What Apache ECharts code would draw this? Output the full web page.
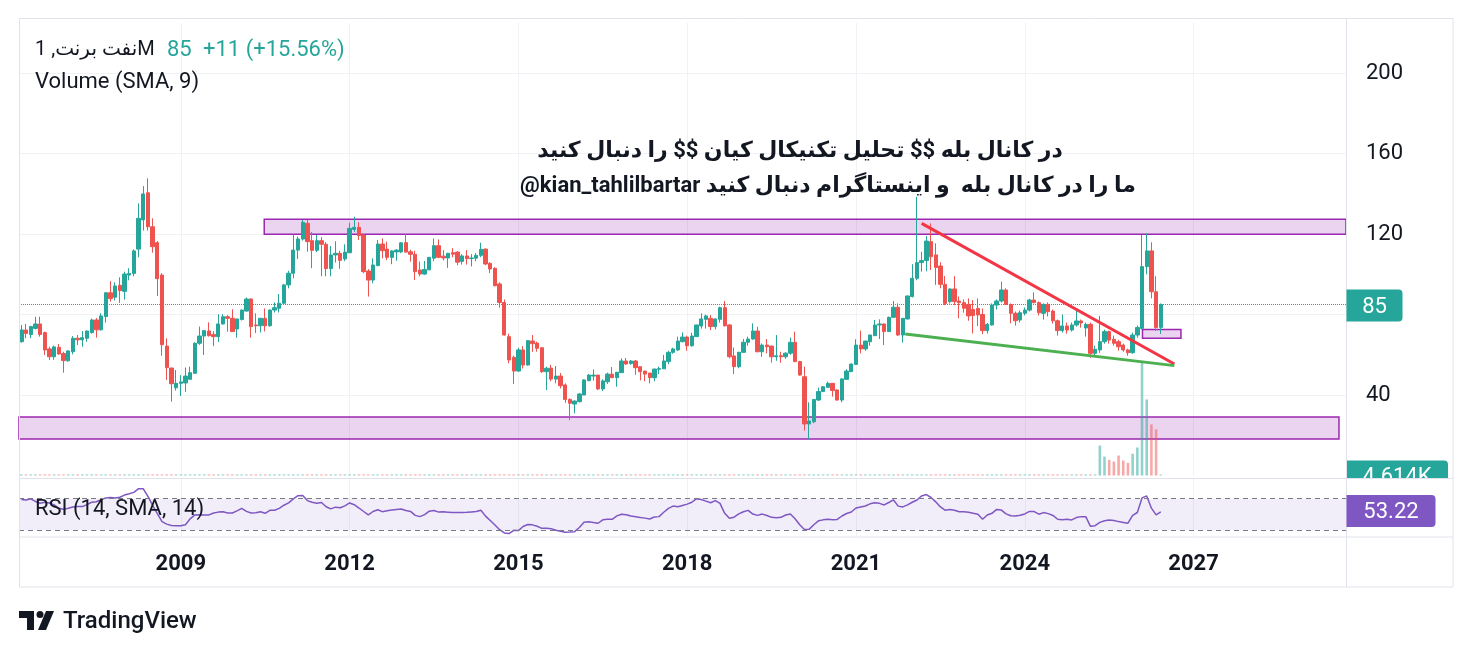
<!DOCTYPE html>
<html><head><meta charset="utf-8">
<script src="https://cdn.jsdelivr.net/npm/echarts@6/dist/echarts.min.js"></script>
<style>html,body{margin:0;padding:0;background:#fff}#c{width:1473px;height:654px}</style>
</head><body><div id="c"></div>
<script>
// ---- data (monthly candles, first = Apr 2006) ----
const startYear = 2006, startMonth = 4;
const axisMonths = 283;
const yearTicks = [2009, 2012, 2015, 2018, 2021, 2024, 2027];
const priceTicks = [40, 80, 120, 160, 200];

const opens = [
66.5,72.3,70.1,73.1,75.3,71.0,62.9,59.0,63.7,60.6,
57.0,61.5,68.2,67.4,68.2,71.0,77.3,72.4,79.0,90.8,
88.6,94.5,91.5,99.6,100.4,112.5,127.0,140.5,123.6,115.7,
99.6,64.3,53.4,43.6,45.8,46.0,47.8,50.8,65.7,69.3,
71.8,70.1,69.0,75.3,78.9,78.1,72.8,77.5,81.7,87.7,
74.8,74.4,78.1,74.4,82.2,83.1,85.6,94.7,100.5,112.0,
117.5,125.3,116.7,111.9,116.7,114.9,102.8,109.6,110.4,107.6,
110.7,122.3,123.3,119.5,101.6,97.1,104.3,115.0,112.5,108.4,
111.1,111.1,115.7,111.2,109.9,102.1,100.1,102.2,108.0,114.2,
109.0,108.1,110.7,111.0,106.4,109.1,107.8,108.0,109.4,112.5,
105.4,102.9,95.2,86.0,69.0,58.7,51.9,62.4,54.9,66.8,
65.8,63.5,51.6,53.4,47.9,49.4,45.0,37.8,35.5,36.7,
40.0,47.1,49.4,49.9,43.0,46.6,50.3,48.6,51.1,56.9,
55.7,56.9,54.0,51.9,50.9,48.6,52.8,53.0,56.6,61.2,
62.4,66.5,68.8,64.5,69.0,74.3,77.6,78.1,74.0,77.6,
83.4,74.8,59.4,54.1,61.2,66.2,67.8,71.8,61.5,64.8,
64.3,59.0,59.5,59.0,60.8,66.2,56.6,49.1,25.6,26.7,
37.5,41.7,43.8,45.8,42.5,37.5,47.8,51.6,55.2,64.8,
62.9,66.5,69.5,74.8,75.3,71.5,78.6,83.6,69.8,77.8,
88.9,98.0,105.8,106.8,116.2,109.6,104.1,95.0,86.4,92.7,
86.7,85.9,85.0,82.5,83.0,80.0,72.0,74.8,84.7,86.7,
92.2,85.0,80.6,77.3,80.6,82.2,87.2,85.9,80.6,85.0,
81.7,76.9,72.0,74.3,72.3,74.8,76.8,73.3,75.1,60.7,
62.4,66.5,71.5,67.7,66.5,64.8,62.4,61.0,69.8,73.1,
103.8,111.6,91.3,73.6];

const highs = [
74.8,75.3,74.4,78.9,78.9,71.5,64.0,64.5,65.3,61.5,
62.3,69.3,69.8,71.8,72.0,78.0,78.2,80.6,91.0,96.6,
96.0,98.5,101.3,103.0,112.4,135.2,143.8,147.7,127.8,116.5,
100.5,68.2,53.6,52.4,49.9,53.7,54.1,66.2,74.0,72.3,
76.1,71.7,80.1,80.2,79.7,82.6,77.8,82.5,88.4,88.0,
80.6,78.3,83.0,82.5,86.0,90.2,95.2,101.7,119.8,118.7,
127.0,127.0,121.0,119.6,118.5,116.0,114.0,116.4,111.7,114.9,
125.6,128.6,125.8,120.0,102.5,107.9,117.0,117.8,116.2,112.0,
112.5,116.0,119.9,112.2,111.7,106.3,106.6,108.6,117.8,117.3,
112.0,110.6,113.0,111.5,110.0,112.0,110.0,110.5,115.7,112.8,
106.0,103.5,96.0,87.5,70.5,59.5,63.5,64.3,67.3,69.8,
66.5,63.8,54.1,55.0,54.4,50.9,45.8,38.3,37.3,41.0,
47.8,50.4,52.7,50.0,47.8,51.1,53.9,51.5,58.2,58.4,
57.3,57.4,54.2,52.0,51.0,53.0,54.1,59.9,62.0,63.5,
69.0,71.1,69.5,70.9,74.9,80.6,80.0,79.7,78.0,83.9,
86.7,75.3,63.6,61.5,67.9,69.0,75.6,73.9,65.6,67.8,
64.5,69.8,61.5,61.2,68.5,71.5,57.0,54.1,36.4,38.0,
43.6,44.4,46.6,46.0,42.8,48.2,52.8,55.6,67.7,72.0,
67.0,70.0,77.3,77.6,75.5,79.0,86.7,85.5,78.3,89.5,
105.0,138.5,111.2,119.0,125.3,115.4,106.0,99.1,93.0,99.0,
88.9,87.5,88.0,87.2,88.0,83.0,75.8,85.5,87.5,96.3,
93.0,85.5,81.5,82.0,83.5,87.8,91.0,86.5,85.5,86.0,
82.5,77.5,80.0,76.0,76.0,82.5,77.5,76.0,76.0,64.5,
79.3,72.5,72.0,69.5,67.5,65.5,63.0,71.0,74.5,119.5,
120.3,115.9,99.0,85.5];

const lows = [
66.0,68.2,68.2,72.6,69.0,59.9,57.4,57.5,60.0,51.1,
56.5,60.2,64.8,64.0,66.5,70.5,68.5,72.0,76.0,86.4,
87.0,85.8,87.4,97.0,99.0,108.4,121.7,121.7,110.7,89.2,
59.5,47.5,36.7,42.2,39.5,41.6,47.8,50.5,64.9,59.9,
69.0,64.3,66.3,75.0,71.5,71.3,68.5,77.0,81.5,68.5,
70.8,71.1,71.6,74.0,81.0,81.0,85.2,93.0,98.0,107.6,
116.7,111.2,103.0,111.0,99.0,99.0,99.0,105.8,102.7,106.5,
110.5,121.0,117.0,100.5,88.9,95.5,104.0,107.9,107.0,105.0,
106.7,110.5,110.8,106.3,97.1,99.0,99.6,102.0,106.5,108.0,
106.9,103.2,108.4,104.5,104.8,104.8,103.9,106.5,108.5,104.5,
100.6,94.0,83.4,69.5,55.8,45.5,51.6,53.2,54.6,61.4,
61.5,51.0,42.5,46.8,45.8,43.3,36.1,27.5,30.9,36.3,
40.0,47.1,47.1,42.5,42.0,45.5,48.5,44.1,51.0,55.0,
55.0,50.0,47.3,46.8,45.8,46.8,50.4,53.0,55.3,60.5,
61.8,66.2,62.0,64.0,68.8,73.0,73.0,72.3,72.6,76.0,
74.0,58.2,50.4,53.3,61.0,64.5,67.5,61.2,59.0,60.7,
56.1,57.0,56.0,58.0,60.0,56.3,49.6,22.3,18.0,26.0,
37.0,41.5,43.8,39.2,37.2,36.4,47.5,51.5,55.0,60.7,
62.0,64.5,69.3,67.8,64.8,71.3,78.5,69.3,66.0,77.5,
88.5,97.0,101.3,101.5,102.1,94.7,93.0,84.7,85.5,84.7,
78.1,80.9,76.9,70.6,74.3,70.3,70.5,74.5,82.5,86.0,
84.7,75.6,74.5,76.0,79.5,81.5,85.5,79.5,77.5,79.0,
75.5,69.5,71.0,70.5,71.5,74.0,73.5,69.0,58.5,59.0,
61.0,65.5,65.5,64.5,62.0,61.5,59.5,60.5,68.5,72.5,
100.0,88.0,71.8,70.3];

const closes = [
72.3,70.6,74.0,75.3,70.1,62.4,59.0,63.9,60.4,57.1,
61.9,68.2,67.4,68.5,71.8,77.3,72.4,79.3,90.8,87.9,
94.2,91.9,100.1,100.4,111.6,127.8,139.9,123.6,113.7,97.8,
65.0,53.6,45.6,45.8,46.5,49.4,51.1,65.7,69.3,72.0,
69.5,69.0,75.3,78.9,78.1,71.5,77.8,82.2,87.7,74.0,
74.4,78.1,74.4,82.2,83.4,85.6,94.7,100.5,112.0,117.5,
125.8,116.2,111.9,116.7,114.9,102.8,109.6,110.4,106.9,111.0,
122.8,123.3,119.2,101.3,97.1,104.6,115.0,111.7,108.4,111.6,
112.0,115.6,111.0,109.9,101.3,100.1,102.4,108.4,114.2,108.4,
108.1,110.4,110.0,106.0,109.1,107.8,108.1,109.4,112.4,105.1,
102.6,94.3,86.0,69.8,57.4,51.9,62.4,54.9,67.0,65.5,
63.2,51.6,53.3,47.9,49.4,44.6,37.8,35.9,37.0,40.5,
47.5,49.9,49.9,43.0,47.0,50.4,48.6,51.3,56.9,55.4,
56.9,53.6,51.6,50.4,48.6,52.9,53.1,56.9,61.2,62.9,
66.8,68.8,64.5,69.3,74.8,77.8,79.3,74.0,77.8,83.4,
74.4,59.0,54.1,61.2,66.2,67.8,71.8,61.5,64.8,64.0,
59.0,59.5,59.0,60.8,66.2,56.6,49.9,25.6,27.1,37.8,
41.7,44.1,45.8,42.2,37.5,48.0,51.9,55.4,64.8,62.9,
66.8,69.8,74.8,75.3,71.5,78.6,83.6,69.8,78.1,89.2,
98.0,105.8,106.8,116.5,108.7,103.4,95.0,85.5,92.7,86.4,
85.9,83.1,79.3,79.5,79.8,72.0,75.1,84.7,86.7,92.2,
85.0,80.6,76.9,80.9,82.2,87.2,85.9,80.9,85.0,81.4,
76.9,72.0,74.3,72.3,74.8,76.8,75.8,75.1,60.7,62.7,
66.5,71.5,67.3,65.7,64.0,62.4,61.0,69.8,73.5,103.8,
111.6,91.3,73.555,85.0];

// volume in K (one value per candle)
const volumes = [
5,5,5,5,5,5,5,5,5,5,
5,5,5,5,5,5,5,5,5,5,
5,5,5,5,5,5,5,5,5,5,
5,5,5,5,5,5,5,5,5,5,
5,5,5,5,5,5,5,5,5,5,
5,5,5,5,5,5,5,5,5,5,
5,5,5,5,5,5,5,5,5,5,
5,5,5,5,5,5,5,5,5,5,
5,5,5,5,5,5,5,5,5,5,
5,5,5,5,5,5,5,5,5,5,
5,5,5,5,5,5,5,5,5,5,
5,5,5,5,5,5,5,5,5,5,
5,5,5,5,5,5,5,5,5,5,
5,5,5,5,5,5,5,5,5,5,
5,5,5,5,5,5,5,5,5,5,
5,5,5,5,5,5,5,5,5,5,
5,5,5,5,5,5,5,5,5,5,
5,5,5,5,5,5,5,5,5,5,
5,5,5,5,5,5,5,5,5,5,
5,5,5,5,5,5,5,5,5,5,
5,5,5,5,5,5,5,5,5,5,
5,5,5,5,5,5,5,5,5,5,
5,5,5,5,5,5,5,5,5,5,
138,87,72,64,92,69,58,100,129,521,
350,235,212,4.614];

const rsi = [
69,68.4,69.8,66.5,64.2,65.6,64.5,62.1,57.8,56.5,
57.9,59.6,60,60,62.5,65.5,66.1,68.8,70.8,71.4,
70.8,71.8,74.6,76.2,78,82.7,82.5,73,61.5,51,
41,37.8,36,35.7,35.8,37.1,44.5,49.5,49.6,49.4,
49.5,51.8,53,53.4,52,51.9,54.6,57.8,54,51.8,
52.3,53.4,51.5,55.3,55.3,57.8,61.7,64.7,69.7,73.8,
74.1,67.6,65.5,64.3,65.2,59.8,57.1,59.3,58.5,60.9,
64.6,62.4,58.2,53.8,49.5,53.8,56,53.6,54.8,55.6,
56.3,57,55,53.9,48.9,47.3,49.8,54.2,55,53,
53.4,52.9,52.4,52.4,52.4,52.7,53.3,53.9,55.4,47.9,
42.3,36.6,30.8,26.6,25.8,30,29.6,34.8,37.3,36.9,
35.1,32.5,32.5,32.1,30.1,28.7,27.6,27.9,28.3,33.5,
40.1,40.8,39.8,38.9,43.3,43.9,43.9,48.2,50.3,49.6,
48.1,47.1,46.1,45.4,44.3,46.8,47.3,52.8,57.7,60.6,
59.8,61.5,63.1,65.5,70,68.9,66.9,64.9,67.5,64,
51.5,45.2,46.6,50.8,53.5,55.2,50.5,48.9,50.5,48.7,
46.4,46,46.4,49.4,50.6,44.6,37,31.1,31.2,37,
42,43.2,43.9,43.5,43.8,48.1,51.3,53.2,58.2,59.6,
60.8,63.5,64.8,64.1,62.1,65.2,68.4,60.6,59.6,62.1,
65.5,68.4,73.5,75.2,71.5,66,59.6,55.5,56.2,55.3,
53.5,53.4,52.9,51.5,50.2,43.9,49.4,51.5,56.4,55.6,
50.8,48.5,48.1,49.1,50.7,53.9,53.7,50.4,52.4,51.1,
48.8,44,43.3,43.9,43.1,46.1,47.3,47.3,35,35.8,
40,42,43,42.4,41,40,39,49,52.5,71,
73.5,58,49.5,53.22];

// drawings (month index, price)
const resistanceZone = [51.8, axisMonths - 0.5, 119.9, 127.3];
const supportZone = [-0.5, 281.0, 18.1, 29.1];
const retestZone = [239.1, 247.3, 68.2, 72.6];
const upperTrend = [[192.0, 125.3], [245.9, 55.4]];
const lowerTrend = [[188.5, 70.3], [245.9, 54.6]];
const rsiBands = [30, 70];

// ---- build ----
const cats = [];
for (let k = 0; k < axisMonths; k++) {
  const m = startMonth - 1 + k;
  cats.push((startYear + Math.floor(m / 12)) + '-' + String(m % 12 + 1).padStart(2, '0'));
}
const isYearTick = (idx, val) => {
  const p = String(val).split('-');
  return p[1] === '02' && yearTicks.indexOf(+p[0]) >= 0;
};
const UP = '#26a69a', DOWN = '#ef5350';
const candles = opens.map((o, i) => [o, closes[i], lows[i], highs[i]]);
const volData = volumes.map((v, i) => ({
  value: v,
  itemStyle: { color: closes[i] >= opens[i] ? 'rgba(38,166,154,0.5)' : 'rgba(239,83,80,0.5)' }
}));
const lastClose = closes[closes.length - 1];
const prevClose = closes[closes.length - 2];
const chg = lastClose - prevClose;
const lastVol = volumes[volumes.length - 1];
const lastRsi = rsi[rsi.length - 1];
const zoneArea = z => [{ coord: [z[0], z[3]] }, { coord: [z[1], z[2]] }];

const FONT = 'Roboto, "DejaVu Sans", sans-serif';
const TXT = '#131722';
const BORDER = '#e0e3eb';
const GRIDC = '#f0f2f5';

const chart = echarts.init(document.getElementById('c'), null, { renderer: 'canvas' });
chart.setOption({
  animation: false,
  backgroundColor: '#ffffff',
  grid: [
    { left: 19, right: 127, top: 22.7, height: 452.8 },
    { left: 19, right: 127, top: 478.3, height: 58.4 }
  ],
  xAxis: [
    { type: 'category', gridIndex: 0, data: cats, boundaryGap: true,
      axisLine: { show: false }, axisTick: { show: false }, axisLabel: { show: false },
      splitLine: { show: true, interval: isYearTick, alignWithLabel: true, lineStyle: { color: GRIDC, width: 1 } } },
    { type: 'value', gridIndex: 0, min: -0.5, max: axisMonths - 0.5, show: false },
    { type: 'category', gridIndex: 1, data: cats, boundaryGap: true,
      axisLine: { show: false }, axisTick: { show: false },
      axisLabel: { interval: isYearTick, formatter: v => v.slice(0, 4), margin: 17,
        fontSize: 22, fontWeight: 'bold', color: TXT, fontFamily: FONT },
      splitLine: { show: true, interval: isYearTick, alignWithLabel: true, lineStyle: { color: GRIDC, width: 1 } } }
  ],
  yAxis: [
    { type: 'value', gridIndex: 0, position: 'right', min: 0, max: 225, interval: 40,
      axisLine: { show: false }, axisTick: { show: false },
      axisLabel: { margin: 20, fontSize: 22, color: TXT, fontFamily: FONT,
        showMinLabel: false, showMaxLabel: false,
        formatter: v => priceTicks.indexOf(v) >= 0 ? String(v) : '' },
      splitLine: { show: true, showMinLine: false, showMaxLine: false, lineStyle: { color: GRIDC } } },
    { type: 'value', gridIndex: 0, min: 0, max: 2083, show: false, splitLine: { show: false } },
    { type: 'value', gridIndex: 1, min: 21.9, max: 95.8, show: false, splitLine: { show: false } }
  ],
  series: [
    { type: 'bar', name: 'Volume', xAxisIndex: 0, yAxisIndex: 1, data: volData,
      barWidth: '55%', z: 1, silent: true },
    { type: 'candlestick', name: 'Brent', xAxisIndex: 0, yAxisIndex: 0, data: candles,
      barWidth: '82%', z: 2, silent: true,
      itemStyle: { color: UP, color0: DOWN, borderColor: UP, borderColor0: DOWN, borderWidth: 1 },
      markLine: { silent: true, symbol: ['none', 'none'], label: { show: false },
        lineStyle: { color: UP, type: 'dotted', width: 1 },
        data: [{ yAxis: lastClose }] } },
    { type: 'line', name: 'drawings', xAxisIndex: 1, yAxisIndex: 0, data: [], z: 3, silent: true,
      markArea: { silent: true,
        itemStyle: { color: 'rgba(156,39,176,0.2)', borderColor: '#9c27b0', borderWidth: 1.5 },
        data: [zoneArea(resistanceZone), zoneArea(supportZone), zoneArea(retestZone)] },
      markLine: { silent: true, symbol: ['none', 'none'], label: { show: false },
        lineStyle: { width: 3, type: 'solid' },
        data: [
          [{ coord: upperTrend[0], lineStyle: { color: '#f23645', width: 3 } }, { coord: upperTrend[1] }],
          [{ coord: lowerTrend[0], lineStyle: { color: '#4caf50', width: 3 } }, { coord: lowerTrend[1] }]
        ] } },
    { type: 'line', name: 'RSI', xAxisIndex: 2, yAxisIndex: 2, data: rsi, symbol: 'none', silent: true,
      lineStyle: { color: '#7e57c2', width: 1.5 }, z: 3,
      markArea: { silent: true, itemStyle: { color: 'rgba(126,87,194,0.1)' },
        data: [[{ yAxis: rsiBands[0] }, { yAxis: rsiBands[1] }]] },
      markLine: { silent: true, symbol: ['none', 'none'], label: { show: false },
        lineStyle: { color: '#787b86', type: [5, 4], width: 1 },
        data: [{ yAxis: rsiBands[1] }, { yAxis: rsiBands[0] }] } }
  ],
  graphic: [
    // volume last-value badge (half hidden under RSI pane)
    { type: 'rect', z: 100, shape: { x: 1346.5, y: 460.5, width: 101.5, height: 32, r: [0, 4, 4, 0] }, style: { fill: UP } },
    { type: 'text', z: 100, style: { x: 1397, y: 477, text: lastVol.toFixed(3) + 'K', fill: '#fff', font: '22px ' + FONT, textAlign: 'center', textVerticalAlign: 'middle' } },
    { type: 'rect', z: 101, shape: { x: 1347, y: 479, width: 105.5, height: 57.5 }, style: { fill: '#ffffff' } },
    // frame
    { type: 'rect', z: 102, shape: { x: 19.5, y: 18.5, width: 1433.5, height: 568.5 }, style: { fill: 'none', stroke: BORDER, lineWidth: 1 } },
    { type: 'line', z: 102, shape: { x1: 1346.5, y1: 18.5, x2: 1346.5, y2: 587 }, style: { stroke: BORDER, lineWidth: 1 } },
    { type: 'line', z: 102, shape: { x1: 19.5, y1: 478.5, x2: 1453, y2: 478.5 }, style: { stroke: BORDER, lineWidth: 1 } },
    { type: 'line', z: 102, shape: { x1: 19.5, y1: 537, x2: 1453, y2: 537 }, style: { stroke: BORDER, lineWidth: 1 } },
    // price badge
    { type: 'rect', z: 103, shape: { x: 1346.5, y: 289.5, width: 56, height: 32, r: [0, 4, 4, 0] }, style: { fill: UP } },
    { type: 'text', z: 104, style: { x: 1374.5, y: 307, text: String(lastClose), fill: '#fff', font: '22px ' + FONT, textAlign: 'center', textVerticalAlign: 'middle' } },
    // RSI badge
    { type: 'rect', z: 103, shape: { x: 1346.5, y: 495, width: 89, height: 32, r: [0, 4, 4, 0] }, style: { fill: '#7e57c2' } },
    { type: 'text', z: 104, style: { x: 1391, y: 512.5, text: lastRsi.toFixed(2), fill: '#fff', font: '22px ' + FONT, textAlign: 'center', textVerticalAlign: 'middle' } },
    // legends
    { type: 'text', z: 104, style: { x: 35, y: 50, text: 'نفت برنت, 1M', fill: TXT, font: '20px ' + FONT, textVerticalAlign: 'middle' } },
    { type: 'text', z: 104, style: { x: 167, y: 50, text: String(lastClose), fill: UP, font: '22px ' + FONT, textVerticalAlign: 'middle' } },
    { type: 'text', z: 104, style: { x: 203, y: 50, text: '+' + Math.round(chg) + ' (+' + (chg / prevClose * 100).toFixed(2) + '%)', fill: UP, font: '22px ' + FONT, textVerticalAlign: 'middle' } },
    { type: 'text', z: 104, style: { x: 35, y: 82, text: 'Volume (SMA, 9)', fill: TXT, font: '22px ' + FONT, textVerticalAlign: 'middle' } },
    { type: 'text', z: 104, style: { x: 35, y: 509, text: 'RSI (14, SMA, 14)', fill: TXT, font: '22px ' + FONT, textVerticalAlign: 'middle' } },
    // annotation
    { type: 'text', z: 104, style: { x: 800, y: 151, text: 'در کانال بله $$ تحلیل تکنیکال کیان $$ را دنبال کنید', fill: TXT, font: 'bold 22px ' + FONT, textAlign: 'center', textVerticalAlign: 'middle' } },
    { type: 'text', z: 104, style: { x: 828, y: 186, text: '@kian_tahlilbartar ما را در کانال بله  و اینستاگرام دنبال کنید', fill: TXT, font: 'bold 22px ' + FONT, textAlign: 'center', textVerticalAlign: 'middle' } },
    // TradingView logo
    { type: 'polygon', z: 104, shape: { points: [[19, 611], [34, 611], [34, 630], [27, 630], [27, 618], [19, 618]] }, style: { fill: TXT } },
    { type: 'circle', z: 104, shape: { cx: 40, cy: 614.5, r: 3.5 }, style: { fill: TXT } },
    { type: 'polygon', z: 104, shape: { points: [[46, 611], [54, 611], [46, 630], [38, 630]] }, style: { fill: TXT } },
    { type: 'text', z: 104, style: { x: 63, y: 622, text: 'TradingView', fill: TXT, font: '500 24px ' + FONT, textVerticalAlign: 'middle' } }
  ]
});
</script>
</body></html>
